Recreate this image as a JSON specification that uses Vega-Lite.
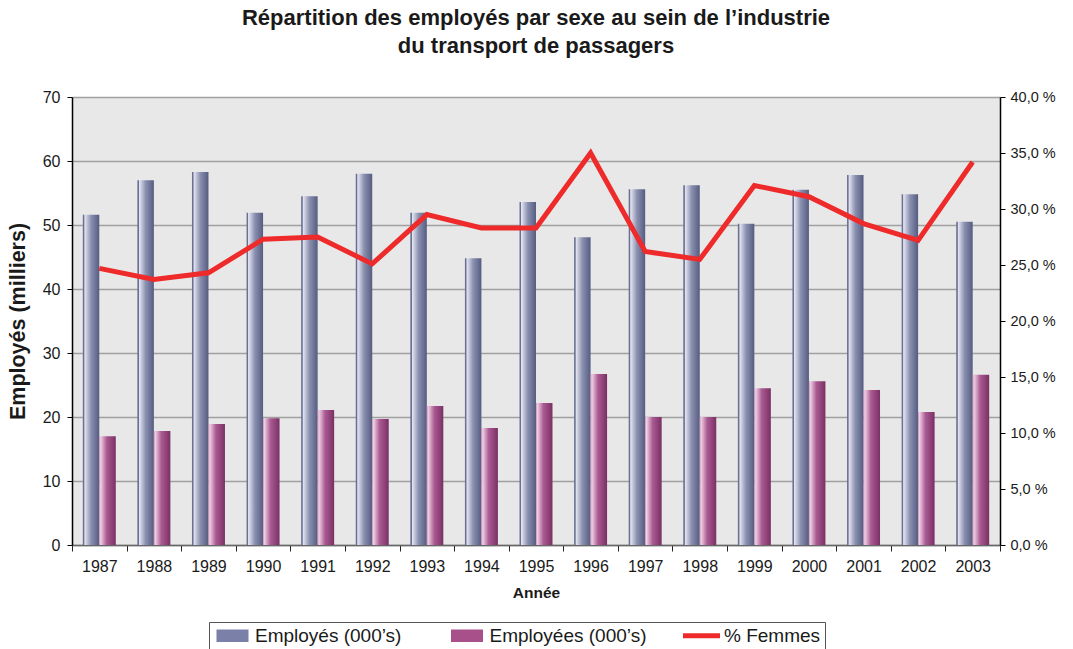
{
  "$schema": "https://vega.github.io/schema/vega-lite/v6.json",
  "width": 928,
  "height": 448,
  "autosize": {"type": "none"},
  "padding": {"left": 72, "top": 97, "right": 73, "bottom": 104},
  "background": "white",
  "title": {
    "text": ["Répartition des employés par sexe au sein de l’industrie", "du transport de passagers"],
    "fontSize": 22,
    "font": "Liberation Sans",
    "fontWeight": "bold",
    "lineHeight": 28,
    "offset": 31,
    "anchor": "middle",
    "color": "#1a1a1a"
  },
  "config": {
    "font": "Liberation Sans",
    "view": {"fill": "#e8e8e8", "stroke": null},
    "axis": {"labelColor": "#1a1a1a", "titleColor": "#1a1a1a", "labelFont": "Liberation Sans", "titleFont": "Liberation Sans"}
  },
  "datasets": {
    "emp": [
      {"annee": 1987, "serie": "Employés (000’s)", "valeur": 51.6},
      {"annee": 1987, "serie": "Employées (000’s)", "valeur": 17.0},
      {"annee": 1988, "serie": "Employés (000’s)", "valeur": 57.0},
      {"annee": 1988, "serie": "Employées (000’s)", "valeur": 17.8},
      {"annee": 1989, "serie": "Employés (000’s)", "valeur": 58.3},
      {"annee": 1989, "serie": "Employées (000’s)", "valeur": 18.9},
      {"annee": 1990, "serie": "Employés (000’s)", "valeur": 51.9},
      {"annee": 1990, "serie": "Employées (000’s)", "valeur": 19.8},
      {"annee": 1991, "serie": "Employés (000’s)", "valeur": 54.5},
      {"annee": 1991, "serie": "Employées (000’s)", "valeur": 21.1},
      {"annee": 1992, "serie": "Employés (000’s)", "valeur": 58.0},
      {"annee": 1992, "serie": "Employées (000’s)", "valeur": 19.7},
      {"annee": 1993, "serie": "Employés (000’s)", "valeur": 51.9},
      {"annee": 1993, "serie": "Employées (000’s)", "valeur": 21.7},
      {"annee": 1994, "serie": "Employés (000’s)", "valeur": 44.8},
      {"annee": 1994, "serie": "Employées (000’s)", "valeur": 18.3},
      {"annee": 1995, "serie": "Employés (000’s)", "valeur": 53.6},
      {"annee": 1995, "serie": "Employées (000’s)", "valeur": 22.2},
      {"annee": 1996, "serie": "Employés (000’s)", "valeur": 48.1},
      {"annee": 1996, "serie": "Employées (000’s)", "valeur": 26.7},
      {"annee": 1997, "serie": "Employés (000’s)", "valeur": 55.6},
      {"annee": 1997, "serie": "Employées (000’s)", "valeur": 20.0},
      {"annee": 1998, "serie": "Employés (000’s)", "valeur": 56.2},
      {"annee": 1998, "serie": "Employées (000’s)", "valeur": 20.0},
      {"annee": 1999, "serie": "Employés (000’s)", "valeur": 50.2},
      {"annee": 1999, "serie": "Employées (000’s)", "valeur": 24.5},
      {"annee": 2000, "serie": "Employés (000’s)", "valeur": 55.5},
      {"annee": 2000, "serie": "Employées (000’s)", "valeur": 25.6},
      {"annee": 2001, "serie": "Employés (000’s)", "valeur": 57.8},
      {"annee": 2001, "serie": "Employées (000’s)", "valeur": 24.2},
      {"annee": 2002, "serie": "Employés (000’s)", "valeur": 54.8},
      {"annee": 2002, "serie": "Employées (000’s)", "valeur": 20.8},
      {"annee": 2003, "serie": "Employés (000’s)", "valeur": 50.5},
      {"annee": 2003, "serie": "Employées (000’s)", "valeur": 26.6}
    ],
    "pct": [
      {"annee": 1987, "serie": "% Femmes", "pct": 24.7},
      {"annee": 1988, "serie": "% Femmes", "pct": 23.7},
      {"annee": 1989, "serie": "% Femmes", "pct": 24.3},
      {"annee": 1990, "serie": "% Femmes", "pct": 27.3},
      {"annee": 1991, "serie": "% Femmes", "pct": 27.5},
      {"annee": 1992, "serie": "% Femmes", "pct": 25.1},
      {"annee": 1993, "serie": "% Femmes", "pct": 29.5},
      {"annee": 1994, "serie": "% Femmes", "pct": 28.3},
      {"annee": 1995, "serie": "% Femmes", "pct": 28.3},
      {"annee": 1996, "serie": "% Femmes", "pct": 35.0},
      {"annee": 1997, "serie": "% Femmes", "pct": 26.2},
      {"annee": 1998, "serie": "% Femmes", "pct": 25.5},
      {"annee": 1999, "serie": "% Femmes", "pct": 32.1},
      {"annee": 2000, "serie": "% Femmes", "pct": 31.1},
      {"annee": 2001, "serie": "% Femmes", "pct": 28.7},
      {"annee": 2002, "serie": "% Femmes", "pct": 27.2},
      {"annee": 2003, "serie": "% Femmes", "pct": 34.2}
    ]
  },
  "layer": [
    {
      "data": {"name": "emp"},
      "mark": {"type": "bar"},
      "encoding": {
        "x": {
          "field": "annee",
          "type": "ordinal",
          "scale": {"paddingInner": 0, "paddingOuter": 0},
          "axis": {
            "title": "Année",
            "titleFontSize": 15.5,
            "titleFontWeight": "bold",
            "titlePadding": 11,
            "labelAngle": 0,
            "labelFontSize": 16,
            "labelPadding": 7,
            "tickBand": "extent",
            "tickSize": 6,
            "tickColor": "#222",
            "domainColor": "#666",
            "domainWidth": 1.5,
            "grid": false
          }
        },
        "xOffset": {
          "field": "serie",
          "type": "nominal",
          "sort": ["Employés (000’s)", "Employées (000’s)"],
          "scale": {"paddingInner": 0, "paddingOuter": 0.655}
        },
        "y": {
          "field": "valeur",
          "type": "quantitative",
          "scale": {"domain": [0, 70], "nice": false},
          "axis": {
            "title": "Employés (milliers)",
            "titleFontSize": 21.5,
            "titleFontWeight": "bold",
            "titlePadding": 13,
            "values": [0, 10, 20, 30, 40, 50, 60, 70],
            "labelFontSize": 16,
            "labelPadding": 7,
            "tickSize": 5,
            "tickColor": "#000",
            "domainColor": "#000",
            "domainWidth": 1.5,
            "grid": true,
            "gridColor": "#a0a0a0",
            "gridWidth": 1.5
          }
        },
        "color": {
          "condition": {
            "test": "datum.serie === 'Employées (000’s)'",
            "value": {
              "gradient": "linear", "x1": 0, "y1": 0, "x2": 1, "y2": 0,
              "stops": [
                {"offset": 0, "color": "#c88cb4"},
                {"offset": 0.08, "color": "#f0d0e4"},
                {"offset": 0.45, "color": "#aa5a92"},
                {"offset": 1, "color": "#7a3064"}
              ]
            }
          },
          "value": {
            "gradient": "linear", "x1": 0, "y1": 0, "x2": 1, "y2": 0,
            "stops": [
              {"offset": 0, "color": "#6a7094"},
              {"offset": 0.07, "color": "#6a7094"},
              {"offset": 0.12, "color": "#e4e4f0"},
              {"offset": 0.5, "color": "#8a90b0"},
              {"offset": 1, "color": "#565c80"}
            ]
          }
        }
      }
    },
    {
      "data": {"name": "pct"},
      "mark": {"type": "line", "strokeWidth": 5, "strokeJoin": "miter"},
      "encoding": {
        "x": {"field": "annee", "type": "ordinal"},
        "y": {
          "field": "pct",
          "type": "quantitative",
          "scale": {"domain": [0, 40], "nice": false},
          "axis": {
            "orient": "right",
            "title": null,
            "values": [0, 5, 10, 15, 20, 25, 30, 35, 40],
            "labelExpr": "replace(format(datum.value, '.1f'), '.', ',') + ' %'",
            "labelFontSize": 14.5,
            "labelPadding": 5,
            "tickSize": 5,
            "tickColor": "#000",
            "domainColor": "#000",
            "domainWidth": 1.5,
            "grid": false
          }
        },
        "color": {
          "field": "serie",
          "type": "nominal",
          "scale": {
            "domain": ["Employés (000’s)", "Employées (000’s)", "% Femmes"],
            "range": ["#7a80a8", "#a8508a", "#ee2a2a"]
          },
          "legend": {
            "orient": "none",
            "legendX": 137,
            "legendY": 525,
            "direction": "horizontal",
            "columns": 3,
            "gridAlign": "all",
            "title": null,
            "labelFontSize": 19,
            "labelFont": "Liberation Sans",
            "labelColor": "#1a1a1a",
            "labelOffset": 13,
            "symbolOffset": 10,
            "symbolSize": 1369,
            "columnPadding": 25.5,
            "padding": 4,
            "strokeColor": "#555",
            "fillColor": "white",
            "encode": {
              "symbols": {
                "update": {
                  "shape": {"signal": "datum.value === '% Femmes' ? 'M-1,0H1' : 'M-0.865,-0.343H0.865V0.343H-0.865Z'"},
                  "fill": {"signal": "datum.value === 'Employés (000’s)' ? '#7a80a8' : datum.value === 'Employées (000’s)' ? '#a8508a' : 'transparent'"},
                  "stroke": {"signal": "datum.value === '% Femmes' ? '#ee2a2a' : 'transparent'"},
                  "strokeWidth": {"signal": "datum.value === '% Femmes' ? 5 : 0"},
                  "opacity": {"value": 1}
                }
              }
            }
          }
        }
      }
    }
  ],
  "resolve": {"scale": {"y": "independent"}}
}
